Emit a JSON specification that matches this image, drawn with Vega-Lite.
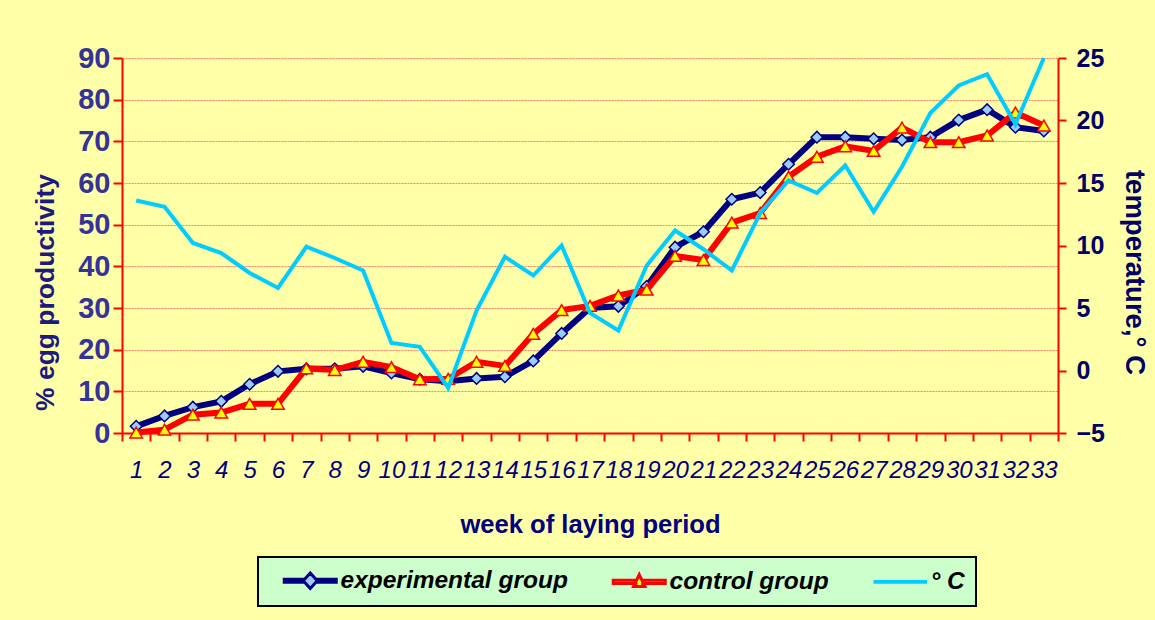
{
  "$schema": "https://vega.github.io/schema/vega-lite/v6.json",
  "width": 936,
  "height": 375,
  "autosize": "none",
  "padding": {"left": 122, "top": 58, "right": 97, "bottom": 187},
  "background": "#FFFFA8",
  "config": {"view": {"stroke": null}, "font": "Liberation Sans"},
  "data": {"values": [
    {"week": 1, "experimental group": 1.6, "control group": 0.1, "° C": 13.6},
    {"week": 2, "experimental group": 4.1, "control group": 0.8, "° C": 13.1},
    {"week": 3, "experimental group": 6.2, "control group": 4.4, "° C": 10.2},
    {"week": 4, "experimental group": 7.6, "control group": 4.9, "° C": 9.4},
    {"week": 5, "experimental group": 11.7, "control group": 7.0, "° C": 7.8},
    {"week": 6, "experimental group": 14.8, "control group": 7.0, "° C": 6.6},
    {"week": 7, "experimental group": 15.4, "control group": 15.5, "° C": 9.9},
    {"week": 8, "experimental group": 15.4, "control group": 15.1, "° C": 9.0},
    {"week": 9, "experimental group": 16.0, "control group": 17.1, "° C": 8.0},
    {"week": 10, "experimental group": 14.4, "control group": 15.8, "° C": 2.2},
    {"week": 11, "experimental group": 12.9, "control group": 12.9, "° C": 1.9},
    {"week": 12, "experimental group": 12.4, "control group": 13.0, "° C": -1.4},
    {"week": 13, "experimental group": 13.1, "control group": 17.1, "° C": 4.8},
    {"week": 14, "experimental group": 13.5, "control group": 16.1, "° C": 9.1},
    {"week": 15, "experimental group": 17.3, "control group": 23.8, "° C": 7.6},
    {"week": 16, "experimental group": 23.9, "control group": 29.5, "° C": 10.0},
    {"week": 17, "experimental group": 30.0, "control group": 30.5, "° C": 4.6},
    {"week": 18, "experimental group": 30.4, "control group": 33.0, "° C": 3.2},
    {"week": 19, "experimental group": 35.2, "control group": 34.4, "° C": 8.4},
    {"week": 20, "experimental group": 44.6, "control group": 42.5, "° C": 11.2},
    {"week": 21, "experimental group": 48.3, "control group": 41.5, "° C": 9.7},
    {"week": 22, "experimental group": 56.1, "control group": 50.5, "° C": 8.0},
    {"week": 23, "experimental group": 57.7, "control group": 52.8, "° C": 12.6},
    {"week": 24, "experimental group": 64.5, "control group": 61.5, "° C": 15.2},
    {"week": 25, "experimental group": 71.0, "control group": 66.3, "° C": 14.2},
    {"week": 26, "experimental group": 71.0, "control group": 68.8, "° C": 16.4},
    {"week": 27, "experimental group": 70.6, "control group": 67.7, "° C": 12.7},
    {"week": 28, "experimental group": 70.3, "control group": 73.3, "° C": 16.3},
    {"week": 29, "experimental group": 71.0, "control group": 69.8, "° C": 20.6},
    {"week": 30, "experimental group": 75.1, "control group": 69.8, "° C": 22.8},
    {"week": 31, "experimental group": 77.6, "control group": 71.4, "° C": 23.7},
    {"week": 32, "experimental group": 73.4, "control group": 76.9, "° C": 19.7},
    {"week": 33, "experimental group": 72.5, "control group": 73.8, "° C": 25.0}
  ]},
  "transform": [
    {"fold": ["experimental group", "control group", "° C"], "as": ["series", "value"]}
  ],
  "encoding": {
    "x": {
      "field": "week", "type": "ordinal",
      "scale": {"type": "band", "paddingInner": 0, "paddingOuter": 0},
      "axis": {
        "title": "week of laying period",
        "labelAngle": 0, "labelOverlap": false,
        "tickBand": "extent", "tickSize": 8, "tickWidth": 2, "tickColor": "#FF0000",
        "domainColor": "#FF0000", "domainWidth": 2,
        "labelFont": "Liberation Sans", "labelFontSize": 24, "labelFontStyle": "italic",
        "labelColor": "#000080", "labelPadding": 17,
        "titleFont": "Liberation Sans", "titleFontSize": 25.6, "titleFontWeight": "bold",
        "titleColor": "#000080", "titlePadding": 30,
        "grid": false
      }
    }
  },
  "layer": [
    {
      "encoding": {
        "y": {
          "field": "value", "type": "quantitative",
          "scale": {"domain": [0, 90], "nice": false, "zero": false},
          "axis": {
            "title": "% egg productivity",
            "values": [0, 10, 20, 30, 40, 50, 60, 70, 80, 90],
            "tickSize": 9, "tickWidth": 2, "tickColor": "#FF0000",
            "domainColor": "#FF0000", "domainWidth": 2,
            "labelFont": "Liberation Sans", "labelFontSize": 29, "labelFontWeight": "bold",
            "labelColor": "#333399", "labelPadding": 3,
            "titleFont": "Liberation Sans", "titleFontSize": 26.5, "titleFontWeight": "bold",
            "titleColor": "#1A1A80", "titlePadding": 18, "titleY": 234,
            "grid": true, "gridColor": "#FF5050", "gridDash": [2, 1], "gridWidth": 1, "gridOpacity": 0.75
          }
        }
      },
      "layer": [
        {
          "transform": [{"filter": "datum.series === 'experimental group'"}],
          "mark": {"type": "line", "strokeWidth": 6},
          "encoding": {
            "stroke": {
              "field": "series", "type": "nominal",
              "scale": {"domain": ["experimental group", "control group", "° C"], "range": ["#000080", "#FF0000", "#00CCFF"]},
              "legend": {
                "title": null, "orient": "none", "legendX": 136, "legendY": 499,
                "direction": "horizontal", "fillColor": "#CCFFCC", "strokeColor": "#000000",
                "padding": 11, "symbolSize": 2704, "symbolType": "stroke",
                "labelFont": "Liberation Sans", "labelFontSize": 24.5, "labelFontWeight": "bold",
                "labelFontStyle": "italic", "labelColor": "#000000", "labelLimit": 400,
                "columnPadding": 30, "labelOffset": 18, "symbolOffset": 29,
                "encode": {
                  "legend": {"update": {"strokeWidth": {"value": 2}}},
                  "symbols": {"update": {
                    "shape": {"signal": "datum.value === 'experimental group' ? 'M-1,-0.06H-0.27V0.06H-1ZM0.27,-0.06H1V0.06H0.27ZM0,-0.3L0.27,0L0,0.3L-0.27,0Z' : datum.value === 'control group' ? 'M-1,-0.06H-0.13V0.06H-1ZM0.13,-0.06H1V0.06H0.13ZM0,-0.28L0.22,0.18L-0.22,0.18Z' : 'M-1,-0.04H1V0.04H-1Z'"},
                    "fill": {"signal": "datum.value === 'experimental group' ? '#99CCFF' : datum.value === 'control group' ? '#FFFF00' : '#00CCFF'"},
                    "stroke": {"signal": "datum.value === 'experimental group' ? '#000080' : datum.value === 'control group' ? '#FF0000' : '#00CCFF'"},
                    "strokeWidth": {"signal": "datum.value === '° C' ? 1.5 : 3"},
                    "fillOpacity": {"value": 1},
                    "strokeOpacity": {"value": 1},
                    "opacity": {"value": 1}
                  }}
                }
              }
            }
          }
        },
        {
          "transform": [{"filter": "datum.series === 'experimental group'"}],
          "mark": {"type": "point", "shape": "diamond", "filled": true, "fill": "#99CCFF", "stroke": "#000080", "strokeWidth": 1.5, "size": 135, "opacity": 1}
        },
        {
          "transform": [{"filter": "datum.series === 'control group'"}],
          "mark": {"type": "line", "strokeWidth": 6},
          "encoding": {
            "stroke": {
              "field": "series", "type": "nominal",
              "scale": {"domain": ["experimental group", "control group", "° C"], "range": ["#000080", "#FF0000", "#00CCFF"]}
            }
          }
        },
        {
          "transform": [{"filter": "datum.series === 'control group'"}],
          "mark": {"type": "point", "shape": "triangle-up", "filled": true, "fill": "#FFFF00", "stroke": "#FF0000", "strokeWidth": 1.5, "size": 155, "opacity": 1}
        }
      ]
    },
    {
      "transform": [{"filter": "datum.series === '° C'"}],
      "mark": {"type": "line", "strokeWidth": 4},
      "encoding": {
        "y": {
          "field": "value", "type": "quantitative",
          "scale": {"domain": [-5, 25], "nice": false, "zero": false},
          "axis": {
            "orient": "right",
            "title": "temperature,° C",
            "values": [-5, 0, 5, 10, 15, 20, 25],
            "tickSize": 8, "tickWidth": 2, "tickColor": "#FF0000",
            "domainColor": "#FF0000", "domainWidth": 2,
            "labelFont": "Liberation Sans", "labelFontSize": 25, "labelFontWeight": "bold",
            "labelColor": "#000066", "labelPadding": 10,
            "titleFont": "Liberation Sans", "titleFontSize": 27.5, "titleFontWeight": "bold",
            "titleColor": "#000066", "titlePadding": 15, "titleY": 214,
            "grid": false
          }
        },
        "stroke": {
          "field": "series", "type": "nominal",
          "scale": {"domain": ["experimental group", "control group", "° C"], "range": ["#000080", "#FF0000", "#00CCFF"]}
        }
      }
    }
  ],
  "resolve": {"scale": {"y": "independent"}}
}
